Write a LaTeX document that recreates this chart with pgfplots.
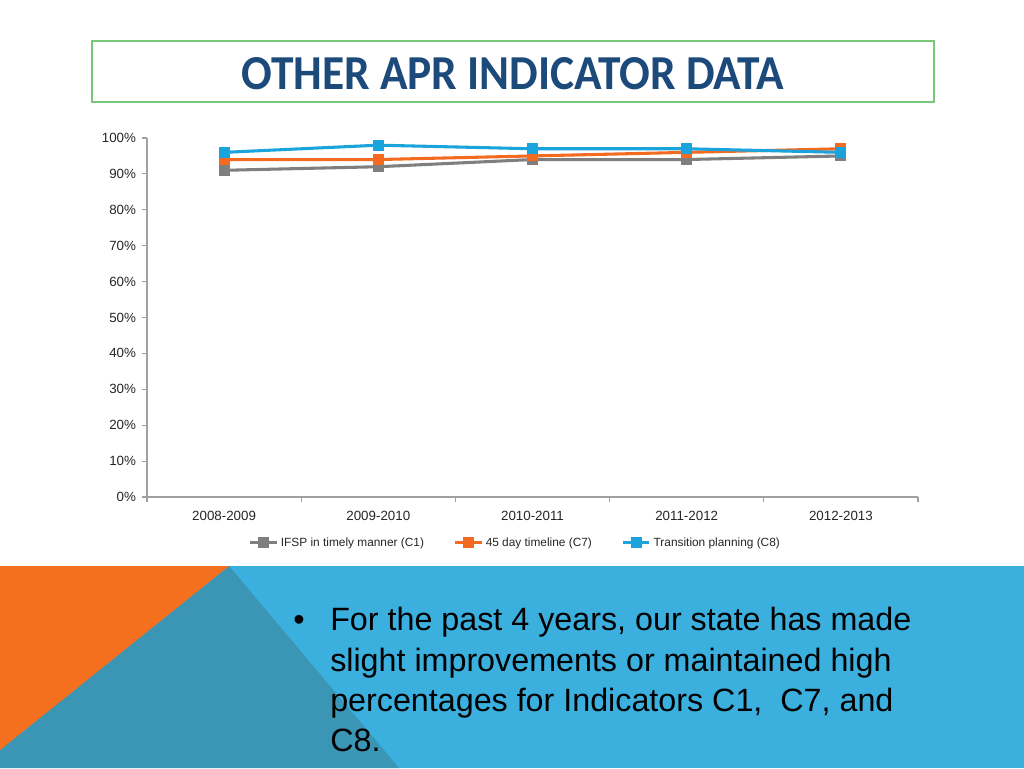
\documentclass[border=0pt]{standalone}
\usepackage{graphicx}
\usepackage{fontspec}
\setmainfont{Liberation Sans}
\newfontfamily\titlefont{Carlito}
\newfontfamily\bodyfont{Liberation Sans}
\usepackage{pgfplots}
\pgfplotsset{compat=1.18}
\definecolor{cgray}{HTML}{7F7F7F}
\definecolor{corange}{HTML}{F26B21}
\definecolor{cblue}{HTML}{1BA3DB}
\definecolor{band}{HTML}{3BB0DF}
\definecolor{teal}{HTML}{3B95B5}
\definecolor{slorange}{HTML}{F4701F}
\definecolor{titleblue}{HTML}{1C4A7B}
\definecolor{boxgreen}{HTML}{78C878}
\definecolor{axgray}{HTML}{A0A0A0}
\begin{document}
\begin{tikzpicture}[x=0.75pt,y=0.75pt]
\useasboundingbox (0,0) rectangle (1024,768);
\fill[white] (0,0) rectangle (1024,768);
% bottom band
\fill[band] (0,0) rectangle (1024,202);
\fill[teal] (229,202) -- (399,0) -- (0,0) -- (0,18) -- cycle;
\fill[slorange] (0,202) -- (229,202) -- (0,18) -- cycle;
% title box
\draw[boxgreen, line width=1pt] (92,727) rectangle (934,666);
\node[anchor=base west, inner sep=0pt, text=titleblue] at (241,678)
  {\resizebox{407.25pt}{24pt}{\titlefont\bfseries OTHER APR INDICATOR DATA}};
% bullet text
\begin{scope}[every node/.style={anchor=base west, inner sep=0pt, text=black, font=\bodyfont\fontsize{24.2}{28}\selectfont}]
\node at (293,138) {•};
\node at (330,138) {For the past 4 years, our state has made};
\node at (330,97) {slight improvements or maintained high};
\node at (330,57) {percentages for Indicators C1,\ \ C7, and};
\node at (330,17) {C8.};
\end{scope}
\begin{axis}[
  at={(110.25pt,203.25pt)}, anchor=south west,
  scale only axis, width=578.25pt, height=269.25pt,
  xmin=-0.5, xmax=4.5, ymin=0, ymax=100,
  axis x line*=bottom, axis y line*=left,
  axis line style={axgray, line width=0.8pt, -},
  xtick={0,1,2,3,4},
  xticklabels={2008-2009,2009-2010,2010-2011,2011-2012,2012-2013},
  major x tick style={draw=none},
  minor xtick={-0.5,0.5,1.5,2.5,3.5,4.5},
  minor x tick style={axgray, line width=0.8pt},
  ytick={0,10,...,100},
  yticklabel={\pgfmathprintnumber{\tick}\%},
  y tick style={axgray, line width=0.8pt},
  tick align=outside,
  major tick length=3.75pt, minor tick length=3.75pt,
  ticklabel style={font=\fontsize{10}{12}\selectfont, text=black!85},
  /pgf/number format/assume math mode=true,
  xticklabel style={yshift=-3pt},
  yticklabel style={xshift=-1pt},
  legend columns=3,
  legend style={at={(0.478,-0.128)}, anchor=center, draw=none, fill=none,
    font=\fontsize{8.9}{10}\selectfont, text=black!85,
    /tikz/every even column/.append style={column sep=20pt},
    inner sep=0pt},
  legend cell align=left,
  legend image code/.code={\draw[mark repeat=2,mark phase=2] plot coordinates {(0pt,0pt)(10pt,0pt)(20pt,0pt)};},
  every axis plot/.append style={line width=2.3pt, mark=square*, mark size=3pt, mark options={solid}},
]
\addplot[cgray, mark options={fill=cgray}] coordinates {(0,91) (1,92) (2,94) (3,94) (4,95)};
\addlegendentry{IFSP in timely manner (C1)}
\addplot[corange, mark options={fill=corange}] coordinates {(0,94) (1,94) (2,95) (3,96) (4,97)};
\addlegendentry{45 day timeline (C7)}
\addplot[cblue, mark options={fill=cblue}] coordinates {(0,96) (1,98) (2,97) (3,97) (4,96)};
\addlegendentry{Transition planning (C8)}
\end{axis}
\end{tikzpicture}
\end{document}
